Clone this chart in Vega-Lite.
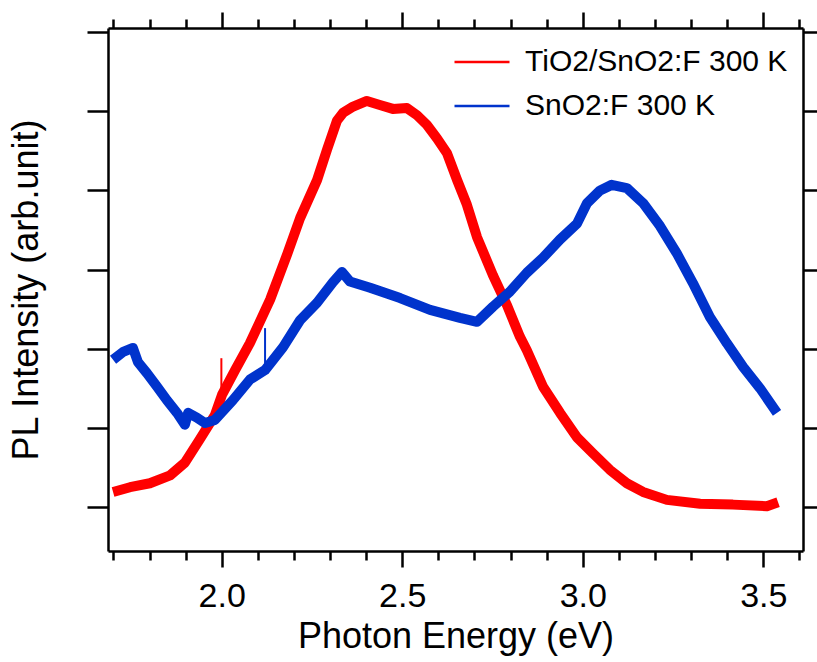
{
  "$schema": "https://vega.github.io/schema/vega-lite/v6.json",
  "width": 695,
  "height": 523,
  "autosize": {"type": "none"},
  "padding": {"left": 108, "top": 28, "right": 14, "bottom": 111},
  "background": "white",
  "config": {
    "view": {"stroke": null},
    "font": "Liberation Sans",
    "axis": {
      "grid": false,
      "domainColor": "black",
      "domainWidth": 2.5,
      "tickColor": "black",
      "tickWidth": 2.5,
      "labelColor": "black",
      "titleColor": "black",
      "titleFontWeight": "normal",
      "labelFont": "Liberation Sans",
      "titleFont": "Liberation Sans"
    }
  },
  "datasets": {
    "pl": [
      {"e": 1.699, "v": 0.19, "s": "TiO2/SnO2:F 300 K"},
      {"e": 1.746, "v": 0.25, "s": "TiO2/SnO2:F 300 K"},
      {"e": 1.801, "v": 0.30, "s": "TiO2/SnO2:F 300 K"},
      {"e": 1.857, "v": 0.40, "s": "TiO2/SnO2:F 300 K"},
      {"e": 1.898, "v": 0.56, "s": "TiO2/SnO2:F 300 K"},
      {"e": 1.940, "v": 0.86, "s": "TiO2/SnO2:F 300 K"},
      {"e": 1.981, "v": 1.16, "s": "TiO2/SnO2:F 300 K"},
      {"e": 2.001, "v": 1.42, "s": "TiO2/SnO2:F 300 K"},
      {"e": 2.037, "v": 1.73, "s": "TiO2/SnO2:F 300 K"},
      {"e": 2.078, "v": 2.07, "s": "TiO2/SnO2:F 300 K"},
      {"e": 2.134, "v": 2.62, "s": "TiO2/SnO2:F 300 K"},
      {"e": 2.181, "v": 3.19, "s": "TiO2/SnO2:F 300 K"},
      {"e": 2.217, "v": 3.65, "s": "TiO2/SnO2:F 300 K"},
      {"e": 2.264, "v": 4.13, "s": "TiO2/SnO2:F 300 K"},
      {"e": 2.292, "v": 4.52, "s": "TiO2/SnO2:F 300 K"},
      {"e": 2.319, "v": 4.88, "s": "TiO2/SnO2:F 300 K"},
      {"e": 2.336, "v": 4.98, "s": "TiO2/SnO2:F 300 K"},
      {"e": 2.364, "v": 5.06, "s": "TiO2/SnO2:F 300 K"},
      {"e": 2.402, "v": 5.13, "s": "TiO2/SnO2:F 300 K"},
      {"e": 2.438, "v": 5.08, "s": "TiO2/SnO2:F 300 K"},
      {"e": 2.474, "v": 5.03, "s": "TiO2/SnO2:F 300 K"},
      {"e": 2.513, "v": 5.04, "s": "TiO2/SnO2:F 300 K"},
      {"e": 2.541, "v": 4.95, "s": "TiO2/SnO2:F 300 K"},
      {"e": 2.568, "v": 4.83, "s": "TiO2/SnO2:F 300 K"},
      {"e": 2.596, "v": 4.66, "s": "TiO2/SnO2:F 300 K"},
      {"e": 2.624, "v": 4.47, "s": "TiO2/SnO2:F 300 K"},
      {"e": 2.652, "v": 4.13, "s": "TiO2/SnO2:F 300 K"},
      {"e": 2.679, "v": 3.82, "s": "TiO2/SnO2:F 300 K"},
      {"e": 2.707, "v": 3.41, "s": "TiO2/SnO2:F 300 K"},
      {"e": 2.751, "v": 2.93, "s": "TiO2/SnO2:F 300 K"},
      {"e": 2.790, "v": 2.55, "s": "TiO2/SnO2:F 300 K"},
      {"e": 2.826, "v": 2.15, "s": "TiO2/SnO2:F 300 K"},
      {"e": 2.845, "v": 1.98, "s": "TiO2/SnO2:F 300 K"},
      {"e": 2.890, "v": 1.52, "s": "TiO2/SnO2:F 300 K"},
      {"e": 2.937, "v": 1.19, "s": "TiO2/SnO2:F 300 K"},
      {"e": 2.984, "v": 0.88, "s": "TiO2/SnO2:F 300 K"},
      {"e": 3.028, "v": 0.68, "s": "TiO2/SnO2:F 300 K"},
      {"e": 3.075, "v": 0.47, "s": "TiO2/SnO2:F 300 K"},
      {"e": 3.122, "v": 0.30, "s": "TiO2/SnO2:F 300 K"},
      {"e": 3.167, "v": 0.19, "s": "TiO2/SnO2:F 300 K"},
      {"e": 3.233, "v": 0.09, "s": "TiO2/SnO2:F 300 K"},
      {"e": 3.325, "v": 0.04, "s": "TiO2/SnO2:F 300 K"},
      {"e": 3.416, "v": 0.03, "s": "TiO2/SnO2:F 300 K"},
      {"e": 3.510, "v": 0.01, "s": "TiO2/SnO2:F 300 K"},
      {"e": 3.541, "v": 0.06, "s": "TiO2/SnO2:F 300 K"},
      {"e": 1.699, "v": 1.86, "s": "SnO2:F 300 K"},
      {"e": 1.727, "v": 1.96, "s": "SnO2:F 300 K"},
      {"e": 1.754, "v": 2.01, "s": "SnO2:F 300 K"},
      {"e": 1.768, "v": 1.83, "s": "SnO2:F 300 K"},
      {"e": 1.793, "v": 1.69, "s": "SnO2:F 300 K"},
      {"e": 1.821, "v": 1.52, "s": "SnO2:F 300 K"},
      {"e": 1.848, "v": 1.35, "s": "SnO2:F 300 K"},
      {"e": 1.876, "v": 1.19, "s": "SnO2:F 300 K"},
      {"e": 1.898, "v": 1.04, "s": "SnO2:F 300 K"},
      {"e": 1.907, "v": 1.19, "s": "SnO2:F 300 K"},
      {"e": 1.931, "v": 1.13, "s": "SnO2:F 300 K"},
      {"e": 1.954, "v": 1.06, "s": "SnO2:F 300 K"},
      {"e": 1.981, "v": 1.10, "s": "SnO2:F 300 K"},
      {"e": 2.031, "v": 1.35, "s": "SnO2:F 300 K"},
      {"e": 2.078, "v": 1.61, "s": "SnO2:F 300 K"},
      {"e": 2.120, "v": 1.73, "s": "SnO2:F 300 K"},
      {"e": 2.170, "v": 2.02, "s": "SnO2:F 300 K"},
      {"e": 2.217, "v": 2.36, "s": "SnO2:F 300 K"},
      {"e": 2.264, "v": 2.58, "s": "SnO2:F 300 K"},
      {"e": 2.308, "v": 2.84, "s": "SnO2:F 300 K"},
      {"e": 2.333, "v": 2.97, "s": "SnO2:F 300 K"},
      {"e": 2.355, "v": 2.85, "s": "SnO2:F 300 K"},
      {"e": 2.411, "v": 2.77, "s": "SnO2:F 300 K"},
      {"e": 2.494, "v": 2.64, "s": "SnO2:F 300 K"},
      {"e": 2.577, "v": 2.49, "s": "SnO2:F 300 K"},
      {"e": 2.660, "v": 2.39, "s": "SnO2:F 300 K"},
      {"e": 2.707, "v": 2.34, "s": "SnO2:F 300 K"},
      {"e": 2.751, "v": 2.53, "s": "SnO2:F 300 K"},
      {"e": 2.798, "v": 2.72, "s": "SnO2:F 300 K"},
      {"e": 2.845, "v": 2.96, "s": "SnO2:F 300 K"},
      {"e": 2.890, "v": 3.15, "s": "SnO2:F 300 K"},
      {"e": 2.937, "v": 3.38, "s": "SnO2:F 300 K"},
      {"e": 2.984, "v": 3.58, "s": "SnO2:F 300 K"},
      {"e": 3.012, "v": 3.84, "s": "SnO2:F 300 K"},
      {"e": 3.048, "v": 4.00, "s": "SnO2:F 300 K"},
      {"e": 3.080, "v": 4.07, "s": "SnO2:F 300 K"},
      {"e": 3.122, "v": 4.03, "s": "SnO2:F 300 K"},
      {"e": 3.167, "v": 3.84, "s": "SnO2:F 300 K"},
      {"e": 3.214, "v": 3.55, "s": "SnO2:F 300 K"},
      {"e": 3.261, "v": 3.20, "s": "SnO2:F 300 K"},
      {"e": 3.305, "v": 2.83, "s": "SnO2:F 300 K"},
      {"e": 3.352, "v": 2.40, "s": "SnO2:F 300 K"},
      {"e": 3.399, "v": 2.07, "s": "SnO2:F 300 K"},
      {"e": 3.444, "v": 1.77, "s": "SnO2:F 300 K"},
      {"e": 3.491, "v": 1.50, "s": "SnO2:F 300 K"},
      {"e": 3.538, "v": 1.19, "s": "SnO2:F 300 K"}
    ],
    "spikes": [
      {"e": 1.999, "v": 1.42, "v2": 1.88, "s": "TiO2/SnO2:F 300 K"},
      {"e": 2.120, "v": 1.73, "v2": 2.26, "s": "SnO2:F 300 K"}
    ]
  },
  "layer": [
    {
      "data": {"name": "pl"},
      "mark": {"type": "line", "strokeWidth": 10, "strokeJoin": "round", "strokeCap": "butt"},
      "encoding": {
        "x": {
          "field": "e", "type": "quantitative",
          "scale": {"domain": [1.685, 3.61], "nice": false, "zero": false},
          "axis": {
            "orient": "bottom", "values": [2.0, 2.5, 3.0, 3.5], "format": ".1f",
            "tickSize": 16, "labelFontSize": 34, "labelPadding": 12, "labelFlush": false,
            "title": "Photon Energy (eV)", "titleFontSize": 36, "titlePadding": 6
          }
        },
        "y": {
          "field": "v", "type": "quantitative",
          "scale": {"domain": [-0.556, 6.052], "nice": false, "zero": false},
          "axis": {
            "orient": "left", "values": [0, 1, 2, 3, 4, 5, 6], "tickSize": 21, "labels": false,
            "title": "PL Intensity (arb.unit)", "titleFontSize": 36, "titlePadding": 40
          }
        },
        "color": {
          "field": "s", "type": "nominal",
          "scale": {"domain": ["TiO2/SnO2:F 300 K", "SnO2:F 300 K"], "range": ["#ff0000", "#0033cc"]},
          "legend": {
            "title": null, "orient": "none", "legendX": 345, "legendY": 5,
            "symbolType": "stroke", "symbolSize": 3025, "symbolStrokeWidth": 2.5,
            "labelFontSize": 30, "labelColor": "black", "labelOffset": 14, "labelFont": "Liberation Sans",
            "rowPadding": -20, "padding": 0, "labelLimit": 400
          }
        }
      }
    },
    {
      "data": {"name": "pl"},
      "mark": {"type": "line", "opacity": 0},
      "encoding": {
        "x": {
          "field": "e", "type": "quantitative",
          "axis": {
            "orient": "bottom", "values": [1.7, 1.8, 1.9, 2.1, 2.2, 2.3, 2.4, 2.6, 2.7, 2.8, 2.9, 3.1, 3.2, 3.3, 3.4, 3.6],
            "tickSize": 9, "labels": false, "domain": false, "title": null
          }
        },
        "y": {
          "field": "v", "type": "quantitative",
          "axis": {"orient": "right", "values": [0, 1, 2, 3, 4, 5, 6], "tickSize": 21, "labels": false, "title": null}
        }
      }
    },
    {
      "data": {"name": "pl"},
      "mark": {"type": "line", "opacity": 0},
      "encoding": {
        "x": {
          "field": "e", "type": "quantitative",
          "axis": {"orient": "top", "values": [2.0, 2.5, 3.0, 3.5], "tickSize": 16, "labels": false, "title": null}
        },
        "y": {"field": "v", "type": "quantitative", "axis": null}
      }
    },
    {
      "data": {"name": "pl"},
      "mark": {"type": "line", "opacity": 0},
      "encoding": {
        "x": {
          "field": "e", "type": "quantitative",
          "axis": {
            "orient": "top", "values": [1.7, 1.8, 1.9, 2.1, 2.2, 2.3, 2.4, 2.6, 2.7, 2.8, 2.9, 3.1, 3.2, 3.3, 3.4, 3.6],
            "tickSize": 9, "labels": false, "domain": false, "title": null
          }
        },
        "y": {"field": "v", "type": "quantitative", "axis": null}
      }
    },
    {
      "data": {"name": "spikes"},
      "mark": {"type": "rule", "strokeWidth": 2},
      "encoding": {
        "x": {"field": "e", "type": "quantitative", "axis": null},
        "y": {"field": "v", "type": "quantitative", "axis": null},
        "y2": {"field": "v2"},
        "color": {"field": "s", "type": "nominal", "legend": null}
      }
    }
  ],
  "resolve": {"axis": {"x": "independent", "y": "independent"}}
}
